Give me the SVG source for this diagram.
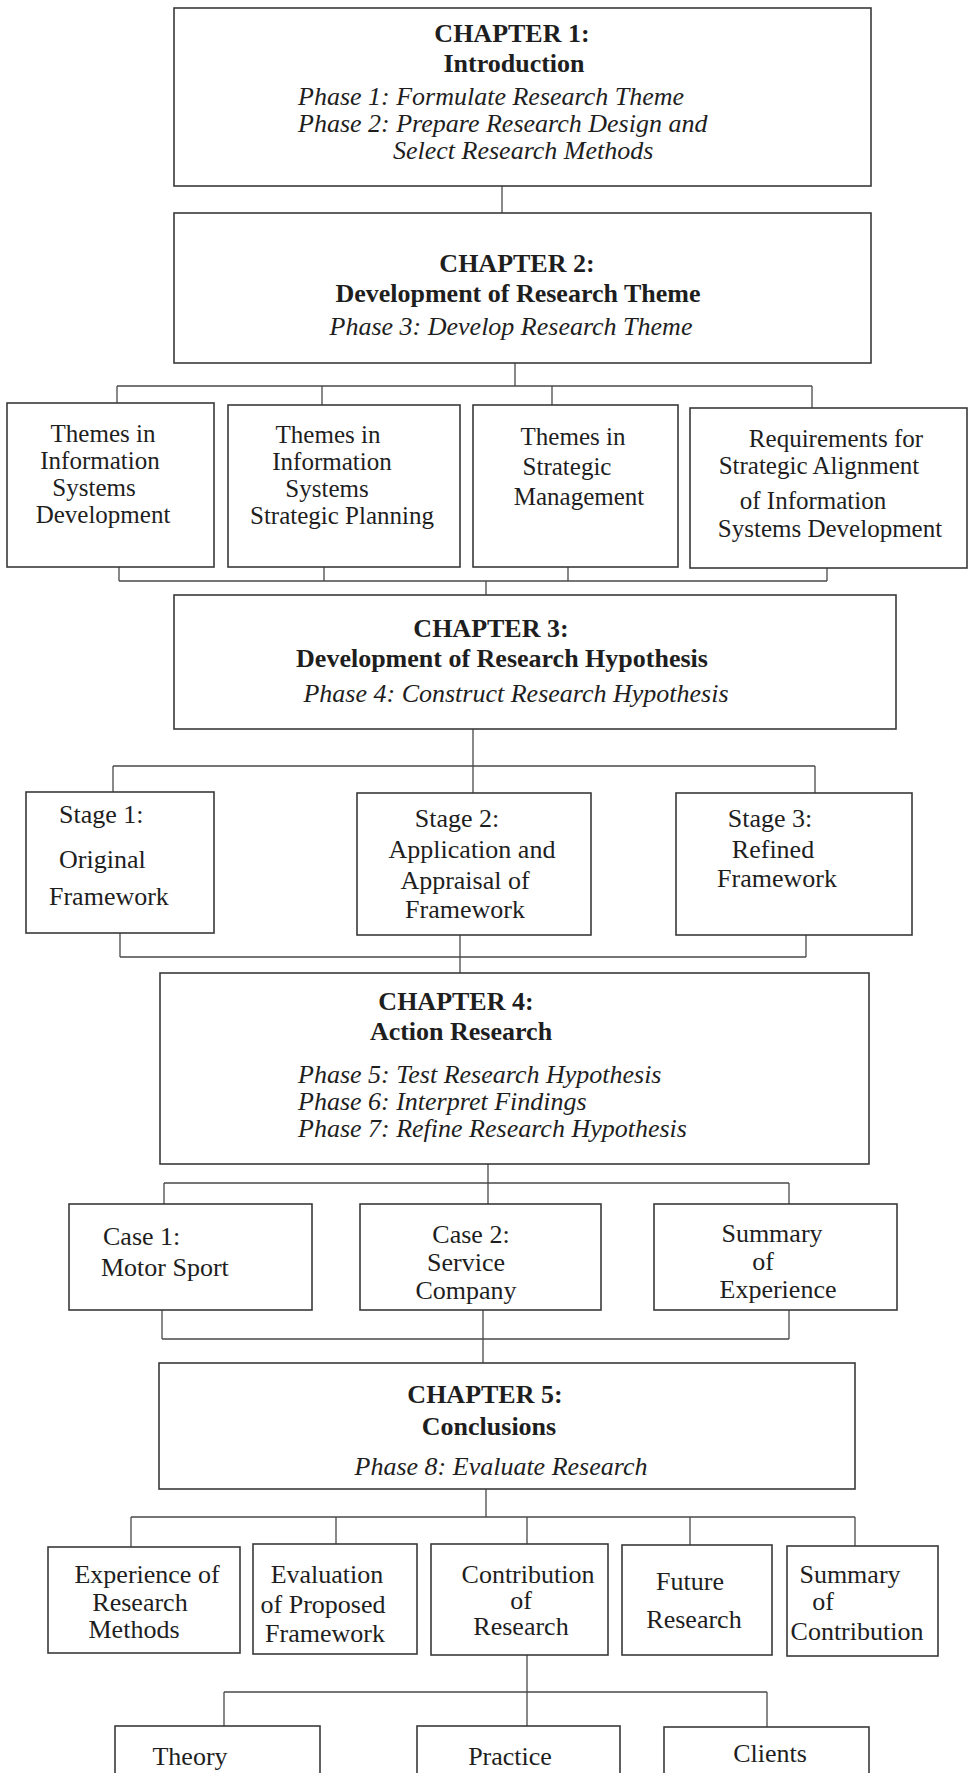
<svg xmlns="http://www.w3.org/2000/svg" width="968" height="1773" viewBox="0 0 968 1773">
  <style>
    .box { fill: #ffffff; stroke: #3a3a3a; stroke-width: 1.6; }
    .ln { fill: none; stroke: #4a4a4a; stroke-width: 1.3; }
    text { font-family: "Liberation Serif", "Times New Roman", serif; font-size: 26px; fill: #1e1e1e; }
    .c { text-anchor: middle; }
    .b { font-weight: bold; }
    .i { font-style: italic; }
    .t { font-size: 25px; }
  </style>
  <rect width="968" height="1773" fill="#ffffff"/>

  <!-- connectors -->
  <g id="connectors" class="ln">
    <path d="M502,186 V213"/>
    <path d="M515,363 V386 M117,386 H812 M117,386 V403 M322,386 V405 M552,386 V405 M812,386 V408"/>
    <path d="M119,567 V581 M324,567 V581 M568,567 V581 M827,568 V581 M119,581 H827 M486,581 V595"/>
    <path d="M473,729 V766 M113,766 H815 M113,766 V792 M473,766 V793 M815,766 V793"/>
    <path d="M120,933 V957 M806,935 V957 M120,957 H806 M460,935 V973"/>
    <path d="M488,1164 V1204 M164,1183 H789 M164,1183 V1204 M789,1183 V1204"/>
    <path d="M162,1310 V1339 M789,1310 V1339 M162,1339 H789 M483,1310 V1363"/>
    <path d="M486,1489 V1517 M131,1517 H855 M131,1517 V1547 M336,1517 V1544 M527,1517 V1544 M690,1517 V1545 M855,1517 V1546"/>
    <path d="M527,1655 V1692 M224,1692 H767 M224,1692 V1726 M527,1692 V1726 M767,1692 V1727"/>
  </g>

  <!-- chapter 1 -->
  <g id="ch1">
    <rect class="box" x="174" y="8" width="697" height="178"/>
    <text class="c b" x="512" y="42">CHAPTER 1:</text>
    <text class="c b" x="514" y="72">Introduction</text>
    <text class="i" x="298" y="105">Phase 1: Formulate Research Theme</text>
    <text class="i" x="298" y="132">Phase 2: Prepare Research Design and</text>
    <text class="i" x="393" y="159">Select Research Methods</text>
  </g>

  <!-- chapter 2 -->
  <g id="ch2">
    <rect class="box" x="174" y="213" width="697" height="150"/>
    <text class="c b" x="517" y="272">CHAPTER 2:</text>
    <text class="c b" x="518" y="302">Development of Research Theme</text>
    <text class="c i" x="511" y="335">Phase 3: Develop Research Theme</text>
  </g>

  <!-- chapter 2 themes -->
  <g id="theme-isd">
    <rect class="box" x="7" y="403" width="207" height="164"/>
    <text class="c t" x="103" y="442">Themes in</text>
    <text class="c t" x="100" y="469">Information</text>
    <text class="c t" x="94" y="496">Systems</text>
    <text class="c t" x="103" y="523">Development</text>
  </g>
  <g id="theme-issp">
    <rect class="box" x="228" y="405" width="232" height="162"/>
    <text class="c t" x="328" y="443">Themes in</text>
    <text class="c t" x="332" y="470">Information</text>
    <text class="c t" x="327" y="497">Systems</text>
    <text class="c t" x="342" y="524">Strategic Planning</text>
  </g>
  <g id="theme-sm">
    <rect class="box" x="473" y="405" width="205" height="162"/>
    <text class="c t" x="573" y="445">Themes in</text>
    <text class="c t" x="567" y="475">Strategic</text>
    <text class="c t" x="579" y="505">Management</text>
  </g>
  <g id="theme-req">
    <rect class="box" x="690" y="408" width="277" height="160"/>
    <text class="c t" x="836" y="447">Requirements for</text>
    <text class="c t" x="819" y="474">Strategic Alignment</text>
    <text class="c t" x="813" y="509">of Information</text>
    <text class="c t" x="830" y="537">Systems Development</text>
  </g>

  <!-- chapter 3 -->
  <g id="ch3">
    <rect class="box" x="174" y="595" width="722" height="134"/>
    <text class="c b" x="491" y="637">CHAPTER 3:</text>
    <text class="c b" x="502" y="667">Development of Research Hypothesis</text>
    <text class="c i" x="516" y="702">Phase 4: Construct Research Hypothesis</text>
  </g>

  <!-- chapter 3 stages -->
  <g id="stage1">
    <rect class="box" x="26" y="792" width="188" height="141"/>
    <text x="59" y="823">Stage 1:</text>
    <text x="59" y="868">Original</text>
    <text x="49" y="905">Framework</text>
  </g>
  <g id="stage2">
    <rect class="box" x="357" y="793" width="234" height="142"/>
    <text class="c" x="457" y="827">Stage 2:</text>
    <text class="c" x="472" y="858">Application and</text>
    <text class="c" x="465" y="889">Appraisal of</text>
    <text class="c" x="465" y="918">Framework</text>
  </g>
  <g id="stage3">
    <rect class="box" x="676" y="793" width="236" height="142"/>
    <text class="c" x="770" y="827">Stage 3:</text>
    <text class="c" x="773" y="858">Refined</text>
    <text class="c" x="777" y="887">Framework</text>
  </g>

  <!-- chapter 4 -->
  <g id="ch4">
    <rect class="box" x="160" y="973" width="709" height="191"/>
    <text class="c b" x="456" y="1010">CHAPTER 4:</text>
    <text class="c b" x="461" y="1040">Action Research</text>
    <text class="i" x="298" y="1083">Phase 5: Test Research Hypothesis</text>
    <text class="i" x="298" y="1110">Phase 6: Interpret Findings</text>
    <text class="i" x="298" y="1137">Phase 7: Refine Research Hypothesis</text>
  </g>

  <!-- chapter 4 cases -->
  <g id="case1">
    <rect class="box" x="69" y="1204" width="243" height="106"/>
    <text x="103" y="1245">Case 1:</text>
    <text x="101" y="1276">Motor Sport</text>
  </g>
  <g id="case2">
    <rect class="box" x="360" y="1204" width="241" height="106"/>
    <text class="c" x="471" y="1243">Case 2:</text>
    <text class="c" x="466" y="1271">Service</text>
    <text class="c" x="466" y="1299">Company</text>
  </g>
  <g id="case-summary">
    <rect class="box" x="654" y="1204" width="243" height="106"/>
    <text class="c" x="772" y="1242">Summary</text>
    <text class="c" x="763" y="1270">of</text>
    <text class="c" x="778" y="1298">Experience</text>
  </g>

  <!-- chapter 5 -->
  <g id="ch5">
    <rect class="box" x="159" y="1363" width="696" height="126"/>
    <text class="c b" x="485" y="1403">CHAPTER 5:</text>
    <text class="c b" x="489" y="1435">Conclusions</text>
    <text class="c i" x="501" y="1475">Phase 8: Evaluate Research</text>
  </g>

  <!-- chapter 5 topics -->
  <g id="experience">
    <rect class="box" x="48" y="1547" width="192" height="106"/>
    <text class="c" x="147" y="1583">Experience of</text>
    <text class="c" x="140" y="1611">Research</text>
    <text class="c" x="134" y="1638">Methods</text>
  </g>
  <g id="evaluation">
    <rect class="box" x="253" y="1544" width="164" height="110"/>
    <text class="c" x="327" y="1583">Evaluation</text>
    <text class="c" x="323" y="1613">of Proposed</text>
    <text class="c" x="325" y="1642">Framework</text>
  </g>
  <g id="contribution">
    <rect class="box" x="431" y="1544" width="177" height="111"/>
    <text class="c" x="528" y="1583">Contribution</text>
    <text class="c" x="521" y="1609">of</text>
    <text class="c" x="521" y="1635">Research</text>
  </g>
  <g id="future">
    <rect class="box" x="622" y="1545" width="150" height="110"/>
    <text class="c" x="690" y="1590">Future</text>
    <text class="c" x="694" y="1628">Research</text>
  </g>
  <g id="summary-contribution">
    <rect class="box" x="787" y="1546" width="151" height="110"/>
    <text class="c" x="850" y="1583">Summary</text>
    <text class="c" x="823" y="1610">of</text>
    <text class="c" x="857" y="1640">Contribution</text>
  </g>

  <!-- contribution areas -->
  <g id="theory">
    <rect class="box" x="115" y="1726" width="205" height="80"/>
    <text class="c" x="190" y="1765">Theory</text>
  </g>
  <g id="practice">
    <rect class="box" x="417" y="1726" width="203" height="80"/>
    <text class="c" x="510" y="1765">Practice</text>
  </g>
  <g id="clients">
    <rect class="box" x="664" y="1727" width="205" height="80"/>
    <text class="c" x="770" y="1762">Clients</text>
  </g>
</svg>
